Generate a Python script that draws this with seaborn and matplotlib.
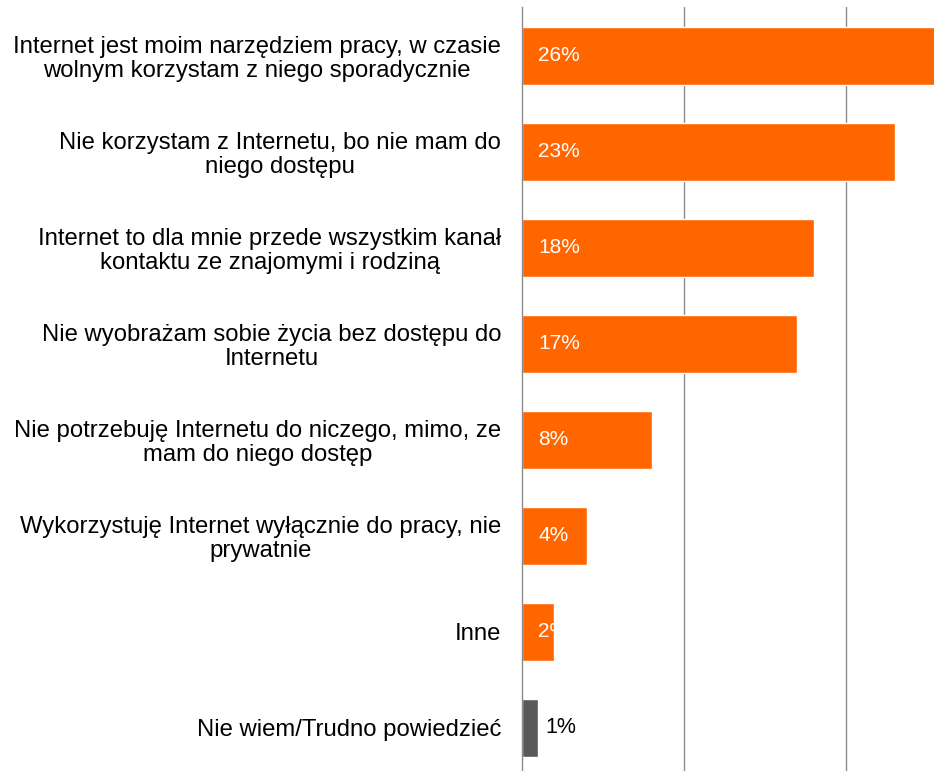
import matplotlib
matplotlib.use("Agg")
import matplotlib.pyplot as plt
import seaborn as sns
import pandas as pd

categories = [
    "Internet jest moim narzędziem pracy, w czasie\nwolnym korzystam z niego sporadycznie",
    "Nie korzystam z Internetu, bo nie mam do\nniego dostępu",
    "Internet to dla mnie przede wszystkim kanał\nkontaktu ze znajomymi i rodziną",
    "Nie wyobrażam sobie życia bez dostępu do\nInternetu",
    "Nie potrzebuję Internetu do niczego, mimo, ze\nmam do niego dostęp",
    "Wykorzystuję Internet wyłącznie do pracy, nie\nprywatnie",
    "Inne",
    "Nie wiem/Trudno powiedzieć",
]
values = [26, 23, 18, 17, 8, 4, 2, 1]
value_labels = ["26%", "23%", "18%", "17%", "8%", "4%", "2%", "1%"]
colors = ["#FF6600"] * 7 + ["#595959"]

sns.set_theme(style="white")
plt.rcParams["font.family"] = ["Liberation Sans", "DejaVu Sans"]

df = pd.DataFrame({"cat": categories, "val": values})

fig = plt.figure(figsize=(9.34, 7.71), dpi=100)
ax = fig.add_axes([522 / 934, 0.0, 1 - 522 / 934, (771 - 7) / 771])

sns.barplot(data=df, y="cat", x="val", hue="cat", palette=colors, legend=False,
            orient="h", width=0.6, saturation=1, ax=ax, zorder=3)

ax.set_xlim(0, 25.43)
ax.set_ylim(7.45, -0.51)
ax.set_xticks([10, 20])
ax.xaxis.grid(True, color="#8a8a8a", linewidth=1.0, zorder=0)
ax.yaxis.grid(False)
ax.set_axisbelow(True)
ax.tick_params(axis="x", length=0, labelbottom=False)
ax.tick_params(axis="y", length=0, pad=15, labelsize=17.2)
for lbl in ax.get_yticklabels():
    lbl.set_multialignment("center")
    lbl.set_linespacing(1.08)
    lbl.set_color("#000000")
ax.set_xlabel("")
ax.set_ylabel("")
for s in ["top", "right", "bottom"]:
    ax.spines[s].set_visible(False)
ax.spines["left"].set_color("#8a8a8a")
ax.spines["left"].set_linewidth(1.0)
ax.spines["left"].set_zorder(4)

bars = ax.patches
for i, (bar, v, t) in enumerate(zip(bars, values, value_labels)):
    if i < 7:
        txt = ax.text(1.0, i, t, color="white", fontsize=15, va="center", ha="left", zorder=5)
        txt.set_clip_path(bar)
    else:
        ax.text(v + 0.45, i, t, color="black", fontsize=15.5, va="center", ha="left", zorder=5)

fig.savefig("out.png", dpi=100)
